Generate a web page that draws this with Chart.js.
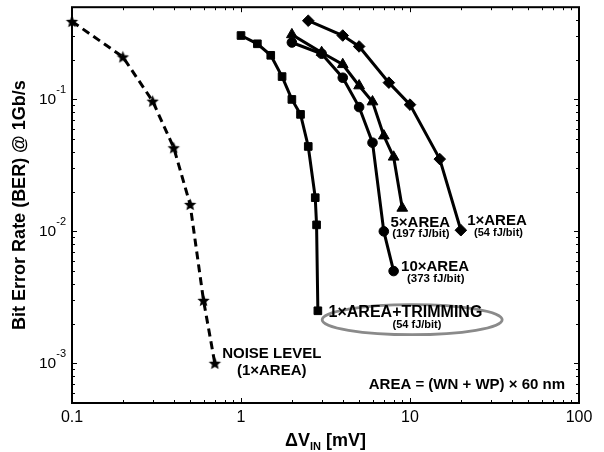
<!DOCTYPE html>
<html><head><meta charset="utf-8">
<script src="https://cdn.jsdelivr.net/npm/chart.js@4/dist/chart.umd.min.js"></script>
<style>html,body{margin:0;padding:0;background:#fff;}canvas{display:block;}</style>
</head><body>
<canvas id="c" width="604" height="452"></canvas>
<script>
// ---- data ----
const noiseX = [0.1, 0.2, 0.3, 0.4, 0.5, 0.6, 0.7];
const noiseY = [0.39, 0.21, 0.097, 0.043, 0.016, 0.003, 0.001];
const trimX = [1, 1.25, 1.5, 1.75, 2, 2.25, 2.5, 2.75, 2.8, 2.85];
const trimY = [0.305, 0.264, 0.216, 0.149, 0.1, 0.077, 0.044, 0.018, 0.0112, 0.0025];
const area10X = [2, 3, 4, 5, 6, 7, 8];
const area10Y = [0.27, 0.222, 0.146, 0.0875, 0.047, 0.01, 0.005];
const area5X = [2, 3, 4, 5, 6, 7, 8, 9];
const area5Y = [0.31, 0.227, 0.184, 0.127, 0.096, 0.053, 0.0366, 0.015];
const area1X = [2.5, 4, 5, 7.5, 10, 15, 20];
const area1Y = [0.395, 0.305, 0.252, 0.134, 0.0913, 0.0353, 0.0102];

const xTickValues = [0.1, 1, 10, 100];
const xTickLabels = ['0.1', '1', '10', '100'];
const yTickValues = [0.1, 0.01, 0.001];
const yTickBases = ['10', '10', '10'];
const yTickExps = ['-1', '-2', '-3'];
const xTitle = ['\u0394V', 'IN', ' [mV]'];
const yTitle = 'Bit Error Rate (BER) @ 1Gb/s';

// annotation texts (anchored in data coordinates)
const notes = [
  {t: 'NOISE LEVEL', x: 1.52, y: 0.00117, f: 15},
  {t: '(1\u00d7AREA)', x: 1.52, y: 0.00087, f: 15},
  {t: '1\u00d7AREA+TRIMMING', x: 9.4, y: 0.00241, f: 16},
  {t: '(54 fJ/bit)', x: 11.0, y: 0.00196, f: 11},
  {t: '5\u00d7AREA', x: 11.5, y: 0.01167, f: 15},
  {t: '(197 fJ/bit)', x: 11.6, y: 0.0095, f: 11.5},
  {t: '10\u00d7AREA', x: 14.06, y: 0.00537, f: 15},
  {t: '(373 fJ/bit)', x: 14.2, y: 0.00437, f: 11.5},
  {t: '1\u00d7AREA', x: 32.7, y: 0.0121, f: 15},
  {t: '(54 fJ/bit)', x: 33.4, y: 0.00966, f: 11},
  {t: 'AREA = (WN + WP) \u00d7 60 nm', x: 21.7, y: 0.000684, f: 15}
];
const ellipseAt = {x: 10.3, y: 0.00214};

const FONT = '"Liberation Sans", Arial, Helvetica, sans-serif';

function pts(xs, ys) { return xs.map((x, i) => ({x: x, y: ys[i]})); }

function makeStar(R) {
  const c = document.createElement('canvas');
  const s = Math.ceil(R * 2 + 2);
  c.width = s; c.height = s;
  const g = c.getContext('2d');
  g.beginPath();
  for (let i = 0; i < 10; i++) {
    const r = i % 2 ? R * 0.45 : R;
    const a = -Math.PI / 2 + i * Math.PI / 5;
    g.lineTo(s / 2 + r * Math.cos(a), s / 2 + r * Math.sin(a) + 0.5);
  }
  g.closePath();
  g.fillStyle = '#000';
  g.fill();
  return c;
}
const starImg = makeStar(6.5);

const framePlugin = {
  id: 'frame',
  beforeDatasetsDraw(chart) {
    const ctx = chart.ctx, xs = chart.scales.x, ys = chart.scales.y;
    ctx.save();
    ctx.beginPath();
    ctx.ellipse(xs.getPixelForValue(ellipseAt.x), ys.getPixelForValue(ellipseAt.y), 90, 15, 0, 0, Math.PI * 2);
    ctx.strokeStyle = '#8a8a8a';
    ctx.lineWidth = 2.8;
    ctx.stroke();
    ctx.restore();
  },
  afterDraw(chart) {
    const ctx = chart.ctx, a = chart.chartArea, xs = chart.scales.x, ys = chart.scales.y;
    ctx.save();
    ctx.strokeStyle = '#000';
    ctx.fillStyle = '#000';
    ctx.lineWidth = 1;
    const xMinor = [], yMinor = [];
    [0.1, 1, 10].forEach(d => { for (let m = 2; m <= 9; m++) xMinor.push(d * m); });
    [0.0001, 0.001, 0.01, 0.1].forEach(d => { for (let m = 2; m <= 9; m++) { const v = d * m; if (v >= 0.0005 && v <= 0.5) yMinor.push(v); } });
    function xt(v, len) {
      const p = Math.round(xs.getPixelForValue(v)) + 0.5;
      ctx.beginPath(); ctx.moveTo(p, a.bottom); ctx.lineTo(p, a.bottom - len);
      ctx.moveTo(p, a.top); ctx.lineTo(p, a.top + len); ctx.stroke();
    }
    function yt(v, len) {
      const p = Math.round(ys.getPixelForValue(v)) + 0.5;
      ctx.beginPath(); ctx.moveTo(a.left, p); ctx.lineTo(a.left + len, p);
      ctx.moveTo(a.right, p); ctx.lineTo(a.right - len, p); ctx.stroke();
    }
    xMinor.forEach(v => xt(v, 3));
    xTickValues.forEach(v => xt(v, 5));
    yMinor.forEach(v => yt(v, 3));
    yTickValues.forEach(v => yt(v, 5));
    ctx.lineWidth = 2;
    ctx.strokeRect(a.left, a.top, a.right - a.left, a.bottom - a.top);

    // x tick labels
    ctx.font = '16px ' + FONT;
    ctx.textAlign = 'center';
    ctx.textBaseline = 'middle';
    xTickValues.forEach((v, i) => ctx.fillText(xTickLabels[i], xs.getPixelForValue(v), 418));
    // y tick labels with superscripts
    yTickValues.forEach((v, i) => {
      const py = ys.getPixelForValue(v);
      ctx.font = '11px ' + FONT;
      const sw = ctx.measureText(yTickExps[i]).width;
      const supRight = a.left - 6;
      ctx.textAlign = 'left';
      ctx.fillText(yTickExps[i], supRight - sw, py - 9);
      ctx.font = '15.5px ' + FONT;
      ctx.textAlign = 'right';
      ctx.fillText(yTickBases[i], supRight - sw, py + 0.5);
    });

    // x title with subscript
    const big = 'bold 18px ' + FONT, small = 'bold 11px ' + FONT;
    ctx.font = big; const w1 = ctx.measureText(xTitle[0]).width, w3 = ctx.measureText(xTitle[2]).width;
    ctx.font = small; const w2 = ctx.measureText(xTitle[1]).width;
    let x0 = (a.left + a.right) / 2 - (w1 + w2 + w3) / 2;
    const ty = 441;
    ctx.textAlign = 'left';
    ctx.font = big; ctx.fillText(xTitle[0], x0, ty);
    ctx.font = small; ctx.fillText(xTitle[1], x0 + w1, ty + 6);
    ctx.font = big; ctx.fillText(xTitle[2], x0 + w1 + w2, ty);
    // y title
    ctx.save();
    ctx.translate(20, (a.top + a.bottom) / 2);
    ctx.rotate(-Math.PI / 2);
    ctx.textAlign = 'center';
    ctx.font = big;
    ctx.fillText(yTitle, 0, 0);
    ctx.restore();

    // annotations
    ctx.textAlign = 'center';
    notes.forEach(n => {
      ctx.font = 'bold ' + n.f + 'px ' + FONT;
      ctx.fillText(n.t, xs.getPixelForValue(n.x), ys.getPixelForValue(n.y));
    });
    ctx.restore();
  }
};

const common = {borderColor: '#000', backgroundColor: '#000', pointBackgroundColor: '#000', pointBorderColor: '#000', pointBorderWidth: 1, borderWidth: 3, tension: 0, clip: false, showLine: true};

new Chart(document.getElementById('c'), {
  type: 'scatter',
  data: {
    datasets: [
      Object.assign({}, common, {label: 'NOISE LEVEL (1×AREA)', data: pts(noiseX, noiseY), borderDash: [8, 5], borderWidth: 3, pointStyle: starImg, pointRadius: 6}),
      Object.assign({}, common, {label: '1×AREA+TRIMMING', data: pts(trimX, trimY), pointStyle: 'rect', pointRadius: 5.4}),
      Object.assign({}, common, {label: '10×AREA', data: pts(area10X, area10Y), pointStyle: 'circle', pointRadius: 4.8}),
      Object.assign({}, common, {label: '5×AREA', data: pts(area5X, area5Y), pointStyle: 'triangle', pointRadius: 6.2}),
      Object.assign({}, common, {label: '1×AREA', data: pts(area1X, area1Y), pointStyle: 'rectRot', pointRadius: 5.8})
    ]
  },
  options: {
    responsive: false,
    animation: false,
    devicePixelRatio: 1,
    layout: {padding: {left: 72, top: 4, right: 25, bottom: 49}},
    plugins: {legend: {display: false}, tooltip: {enabled: false}},
    scales: {
      x: {type: 'logarithmic', min: 0.1, max: 100, display: false},
      y: {type: 'logarithmic', min: 0.0005, max: 0.5, display: false}
    }
  },
  plugins: [framePlugin]
});
</script>
</body></html>
